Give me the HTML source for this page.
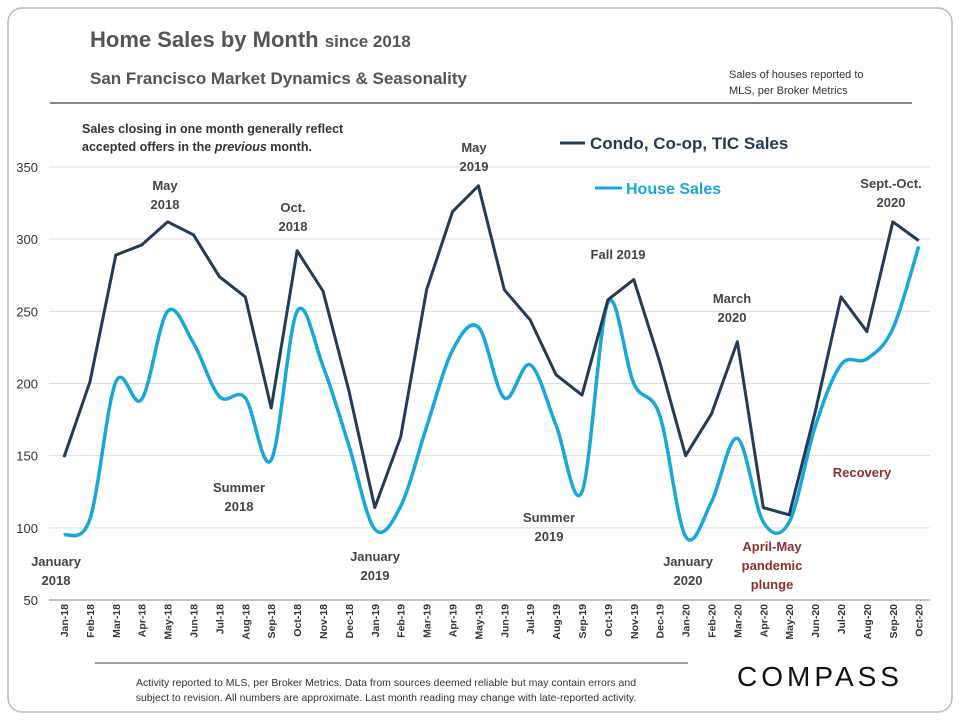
<!DOCTYPE html>
<html><head><meta charset="utf-8"><style>
body{margin:0;background:#fff;font-family:"Liberation Sans",sans-serif}
svg text{font-family:"Liberation Sans",sans-serif}
</style></head><body>
<svg id="c" width="960" height="720" xmlns="http://www.w3.org/2000/svg">
<rect x="8" y="8" width="944" height="704" rx="14" fill="#fff" stroke="#bbb" stroke-width="1.5"/>
<text x="90" y="47" font-size="22" font-weight="bold" fill="#555">Home Sales by Month <tspan font-size="17">since 2018</tspan></text>
<text x="90" y="84" font-size="17" font-weight="bold" fill="#555">San Francisco Market Dynamics &amp; Seasonality</text>
<text x="729" y="78" font-size="11" fill="#333">Sales of houses reported to</text>
<text x="729" y="94" font-size="11" fill="#333">MLS, per Broker Metrics</text>
<line x1="50" y1="103" x2="912" y2="103" stroke="#888" stroke-width="2"/>
<text x="82" y="133" font-size="12.5" font-weight="bold" fill="#333">Sales closing in one month generally reflect</text>
<text x="82" y="151" font-size="12.5" font-weight="bold" fill="#333">accepted offers in the <tspan font-style="italic">previous</tspan> month.</text>
<g id="grid"></g><g id="axes"></g><g id="lines"></g>
<line x1="560" y1="143" x2="585" y2="143" stroke="#243a56" stroke-width="3"/>
<text x="590" y="149" font-size="17" font-weight="bold" fill="#243a56">Condo, Co-op, TIC Sales</text>
<line x1="595" y1="188" x2="622" y2="188" stroke="#18a8d8" stroke-width="3"/>
<text x="626" y="194" font-size="16" font-weight="bold" fill="#18a8d8">House Sales</text>
<g font-size="13" font-weight="bold" fill="#444" text-anchor="middle">
<text x="165" y="190"><tspan x="165">May</tspan><tspan x="165" dy="19">2018</tspan></text>
<text x="293" y="212"><tspan x="293">Oct.</tspan><tspan x="293" dy="19">2018</tspan></text>
<text x="474" y="152"><tspan x="474">May</tspan><tspan x="474" dy="19">2019</tspan></text>
<text x="618" y="259">Fall 2019</text>
<text x="732" y="303"><tspan x="732">March</tspan><tspan x="732" dy="19">2020</tspan></text>
<text x="891" y="188"><tspan x="891">Sept.-Oct.</tspan><tspan x="891" dy="19">2020</tspan></text>
<text x="239" y="492"><tspan x="239">Summer</tspan><tspan x="239" dy="19">2018</tspan></text>
<text x="549" y="522"><tspan x="549">Summer</tspan><tspan x="549" dy="19">2019</tspan></text>
<text x="56" y="566"><tspan x="56">January</tspan><tspan x="56" dy="19">2018</tspan></text>
<text x="375" y="561"><tspan x="375">January</tspan><tspan x="375" dy="19">2019</tspan></text>
<text x="688" y="566"><tspan x="688">January</tspan><tspan x="688" dy="19">2020</tspan></text>
<g fill="#8b2f2f">
<text x="862" y="477">Recovery</text>
<text x="772" y="551"><tspan x="772">April-May</tspan><tspan x="772" dy="19">pandemic</tspan><tspan x="772" dy="19">plunge</tspan></text>
</g></g>
<line x1="95" y1="663" x2="688" y2="663" stroke="#444" stroke-width="1"/>
<g font-size="10.5" fill="#333" text-anchor="middle">
<text x="386" y="686">Activity reported to MLS, per Broker Metrics. Data from sources deemed reliable but may contain errors and</text>
<text x="386" y="701">subject to revision. All numbers are approximate. Last month reading may change with late-reported activity.</text>
</g>
<text x="820" y="686" font-size="28" fill="#111" text-anchor="middle" letter-spacing="4">COMPASS</text>
</svg>
<script>
const months=["Jan-18","Feb-18","Mar-18","Apr-18","May-18","Jun-18","Jul-18","Aug-18","Sep-18","Oct-18","Nov-18","Dec-18","Jan-19","Feb-19","Mar-19","Apr-19","May-19","Jun-19","Jul-19","Aug-19","Sep-19","Oct-19","Nov-19","Dec-19","Jan-20","Feb-20","Mar-20","Apr-20","May-20","Jun-20","Jul-20","Aug-20","Sep-20","Oct-20"];
const condo=[149,201,289,296,312,303,274,260,183,292,264,195,114,163,265,319,337,265,244,206,192,258,272,215,150,179,229,114,109,180,260,236,312,299];
const house=[95,106,201,189,250,228,191,190,147,250,212,157,99,115,170,223,239,190,213,171,125,256,200,178,94,118,162,104,104,170,213,217,238,295];
const yTicks=[50,100,150,200,250,300,350];
const NS="http://www.w3.org/2000/svg";
const x=i=>64+i*25.9;
const y=v=>600-(v-50)*433/300;
function mk(t,a,p){const e=document.createElementNS(NS,t);for(const k in a)e.setAttribute(k,a[k]);document.getElementById(p).appendChild(e);return e;}
yTicks.forEach(v=>{
 if(v>50){const g=mk('line',{x1:49,x2:930,y1:y(v),y2:y(v),stroke:'#ddd','stroke-width':1},'grid');
 
 }
 const t=mk('text',{x:38,y:y(v)+5,'font-size':13,fill:'#333','text-anchor':'end'},'axes');t.textContent=v;
 
 
});
const ax=mk('line',{x1:49,x2:930,y1:600,y2:600,stroke:'#888'},'axes');


months.forEach((m,i)=>{
 const t=mk('text',{transform:`translate(${x(i)+4},${604}) rotate(-90)`,'font-size':10.5,'font-weight':'bold',fill:'#333','text-anchor':'end'},'axes');t.textContent=m;
 
 
});
function smooth(vals){const p=vals.map((v,i)=>[x(i),y(v)]);let d=`M${p[0][0]},${p[0][1]}`;
 for(let i=0;i<p.length-1;i++){const p0=p[i-1]||p[i],p1=p[i],p2=p[i+1],p3=p[i+2]||p2;const k=1/6;
 d+=` C${p1[0]+(p2[0]-p0[0])*k},${p1[1]+(p2[1]-p0[1])*k} ${p2[0]-(p3[0]-p1[0])*k},${p2[1]-(p3[1]-p1[1])*k} ${p2[0]},${p2[1]}`;}return d;}
const hp=mk('path',{d:smooth(house),fill:'none',stroke:'#18a8d8','stroke-width':3.5},'lines');


const cp=mk('path',{d:'M'+condo.map((v,i)=>x(i)+','+y(v)).join(' L'),fill:'none',stroke:'#243a56','stroke-width':3,'stroke-linejoin':'round'},'lines');


</script>
</body></html>
